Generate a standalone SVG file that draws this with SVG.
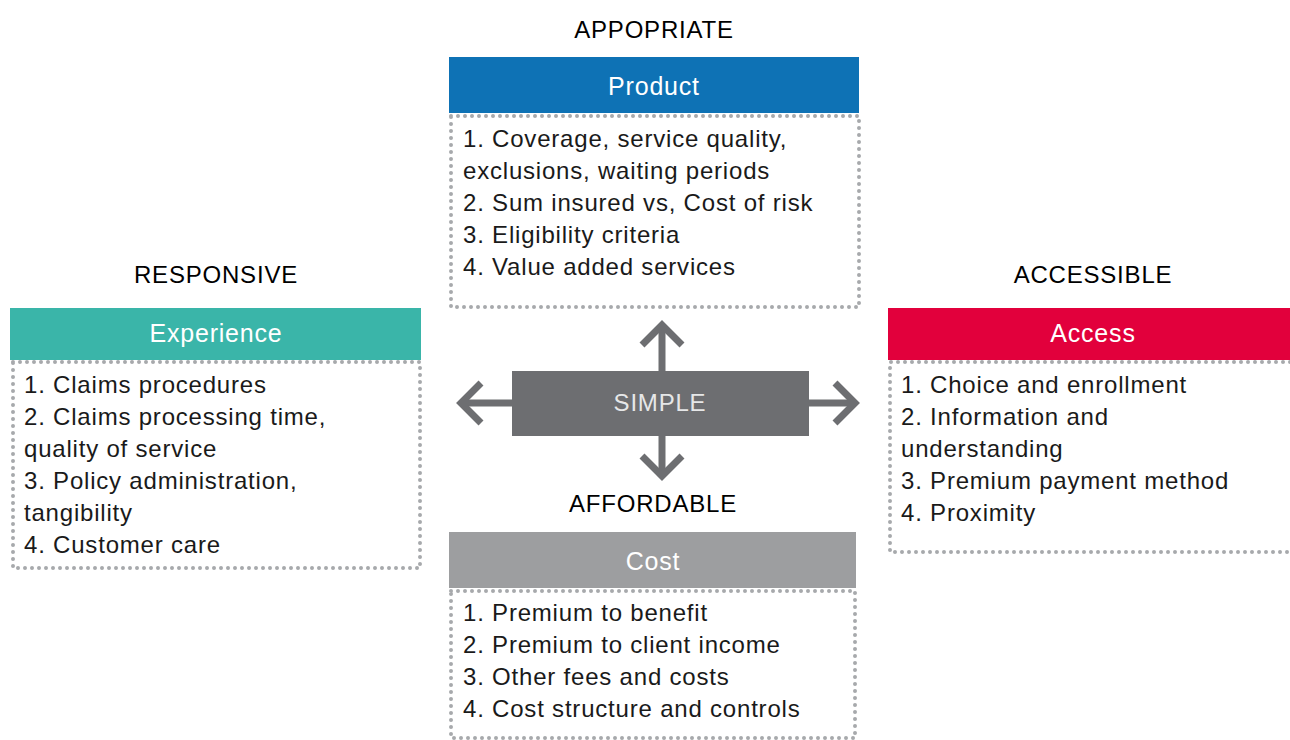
<svg xmlns="http://www.w3.org/2000/svg" width="1290" height="740" viewBox="0 0 1290 740">
<style>
text{font-family:"Liberation Sans",Arial,sans-serif;font-size:24px;letter-spacing:0.8px}
.lbl{fill:#000;text-anchor:middle}
.hd{fill:#fff;text-anchor:middle;font-size:25px}
.it{fill:#1a1a1a}
.dot{fill:none;stroke:#a7a9ac;stroke-width:4;stroke-linecap:round;stroke-dasharray:0 7}
.arr{fill:none;stroke:#6d6e71;stroke-width:7;stroke-linejoin:miter;stroke-miterlimit:10}
</style>
<rect width="1290" height="740" fill="#fff"/>
<g id="connectors">
<line class="arr" x1="662" y1="371" x2="662" y2="328"/>
<polyline class="arr" points="642,345 662,325 682,345"/>
<line class="arr" x1="662" y1="436" x2="662" y2="474"/>
<polyline class="arr" points="642,456 662,476 682,456"/>
<line class="arr" x1="512" y1="403" x2="464" y2="403"/>
<polyline class="arr" points="481,383 461,403 481,423"/>
<line class="arr" x1="809" y1="403" x2="852" y2="403"/>
<polyline class="arr" points="835,383 855,403 835,423"/>
</g>
<g id="label-appropriate"><text class="lbl" x="654" y="38">APPOPRIATE</text></g>
<g id="label-responsive"><text class="lbl" x="216" y="283">RESPONSIVE</text></g>
<g id="label-accessible"><text class="lbl" x="1093" y="283">ACCESSIBLE</text></g>
<g id="label-affordable"><text class="lbl" x="653" y="512">AFFORDABLE</text></g>
<g id="product">
<rect x="449" y="57" width="410" height="56" fill="#0e72b5"/>
<text class="hd" x="654" y="95">Product</text>
<rect class="dot" x="451" y="116" width="408" height="191"/>
<text class="it" x="463" y="147">1. Coverage, service quality,</text>
<text class="it" x="463" y="179">exclusions, waiting periods</text>
<text class="it" x="463" y="211">2. Sum insured vs, Cost of risk</text>
<text class="it" x="463" y="243">3. Eligibility criteria</text>
<text class="it" x="463" y="275">4. Value added services</text>
</g>
<g id="experience">
<rect x="10" y="308" width="411" height="52" fill="#3ab5a9"/>
<text class="hd" x="216" y="342">Experience</text>
<rect class="dot" x="13" y="362" width="407" height="206"/>
<text class="it" x="24" y="393">1. Claims procedures</text>
<text class="it" x="24" y="425">2. Claims processing time,</text>
<text class="it" x="24" y="457">quality of service</text>
<text class="it" x="24" y="489">3. Policy administration,</text>
<text class="it" x="24" y="521">tangibility</text>
<text class="it" x="24" y="553">4. Customer care</text>
</g>
<g id="access">
<rect x="888" y="308" width="402" height="52" fill="#e2003c"/>
<text class="hd" x="1093" y="342">Access</text>
<path class="dot" d="M1290,362 H890 V552 H1290"/>
<text class="it" x="901" y="393">1. Choice and enrollment</text>
<text class="it" x="901" y="425">2. Information and</text>
<text class="it" x="901" y="457">understanding</text>
<text class="it" x="901" y="489">3. Premium payment method</text>
<text class="it" x="901" y="521">4. Proximity</text>
</g>
<g id="cost">
<rect x="449" y="532" width="407" height="56" fill="#9d9ea0"/>
<text class="hd" x="653" y="570">Cost</text>
<rect class="dot" x="451" y="591" width="404" height="147"/>
<text class="it" x="463" y="621">1. Premium to benefit</text>
<text class="it" x="463" y="653">2. Premium to client income</text>
<text class="it" x="463" y="685">3. Other fees and costs</text>
<text class="it" x="463" y="717">4. Cost structure and controls</text>
</g>
<g id="simple">
<rect x="512" y="371" width="297" height="65" fill="#6d6e71"/>
<text x="660" y="411" text-anchor="middle" fill="#e6e7e8">SIMPLE</text>
</g>
</svg>
